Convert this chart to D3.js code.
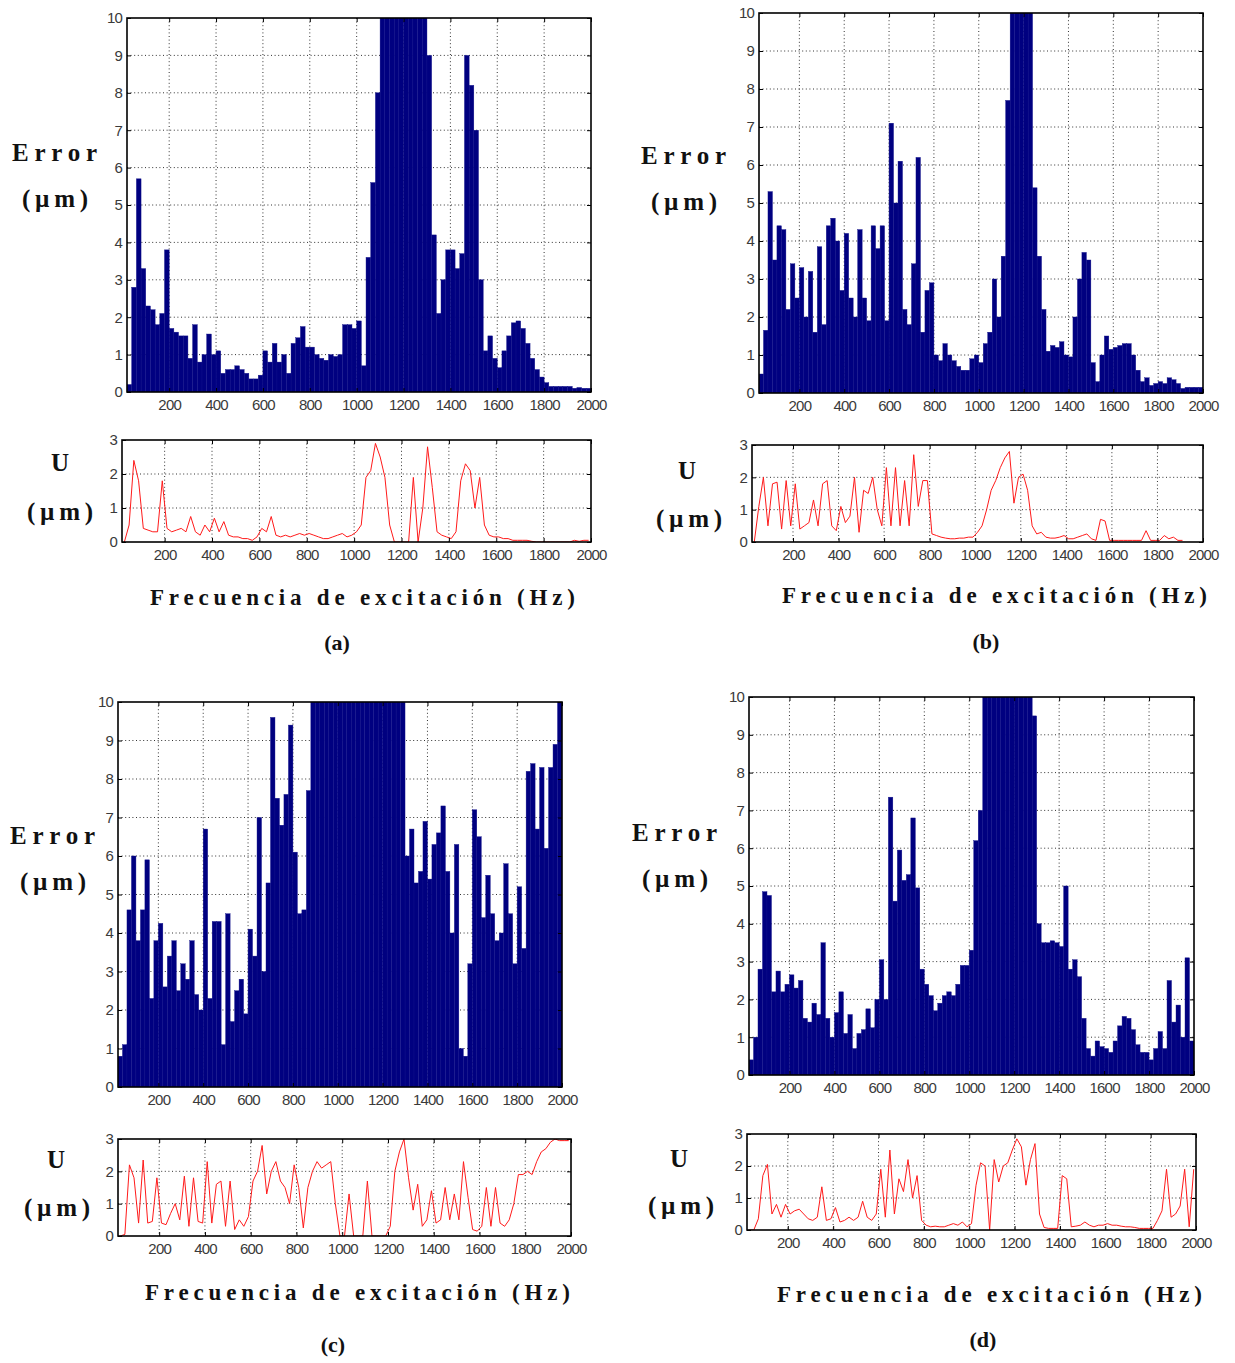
<!DOCTYPE html>
<meta charset="utf-8">
<style>
body { margin: 0; background: #fff; }
svg { display: block; }
.tick text {
  font-family: "Liberation Sans", Arial, sans-serif;
  font-size: 15px;
  fill: #3a3a3a;
  letter-spacing: -0.8px;
}
.tick line { stroke: #000; }
.grid line { stroke: #333; stroke-width: 1; stroke-dasharray: 1,2.6; }
.lbl {
  font-family: "Liberation Serif", "Times New Roman", serif;
  font-weight: bold;
  fill: #111;
}
</style>
<body>
<script src="https://d3js.org/d3.v7.min.js"></script>
<script>

// bin centres (Hz), 20 Hz wide
var freqs = d3.range(30, 2000, 20);
var xTicks = [200, 400, 600, 800, 1000, 1200, 1400, 1600, 1800, 2000];
var errTicks = [0, 1, 2, 3, 4, 5, 6, 7, 8, 9, 10];
var uTicks = [0, 1, 2, 3];

// (a)
var errA = [
  0.2, 2.8, 5.7, 3.3, 2.3, 2.2, 1.8, 2.1, 3.8, 1.7,
  1.6, 1.5, 1.5, 0.9, 1.8, 0.8, 1.0, 1.55, 1.0, 1.1,
  0.5, 0.6, 0.6, 0.7, 0.6, 0.5, 0.35, 0.35, 0.45, 1.1,
  0.8, 1.3, 0.8, 1.0, 0.5, 1.3, 1.45, 1.75, 1.2, 1.2,
  1.0, 0.9, 0.85, 1.0, 0.95, 1.0, 1.8, 1.8, 1.7, 1.9,
  0.7, 3.6, 5.6, 8, 10, 10, 10, 10, 10, 10,
  10, 10, 10, 10, 9, 4.2, 2.1, 3.0, 3.8, 3.8,
  3.3, 3.7, 9, 8.2, 7.0, 3.0, 1.1, 1.5, 0.9, 0.65,
  1.1, 1.5, 1.85, 1.9, 1.7, 1.3, 0.9, 0.6, 0.4, 0.25,
  0.15, 0.15, 0.15, 0.15, 0.15, 0.1, 0.12, 0.1, 0.1
];
var uA = [
  0, 0.5, 2.4, 1.8, 0.4, 0.35, 0.3, 0.3, 1.8, 0.4,
  0.3, 0.35, 0.4, 0.3, 0.75, 0.3, 0.2, 0.5, 0.3, 0.7,
  0.3, 0.6, 0.2, 0.15, 0.15, 0.1, 0.1, 0.05, 0.15, 0.4,
  0.3, 0.75, 0.2, 0.15, 0.2, 0.15, 0.2, 0.25, 0.2, 0.25,
  0.2, 0.15, 0.1, 0.1, 0.15, 0.2, 0.25, 0.15, 0.2, 0.3,
  0.5, 1.9, 2.1, 2.9, 2.5, 1.9, 0.5, 0, 0, 0,
  0, 1.9, 0, 1.0, 2.8, 1.6, 0.3, 0.2, 0.15, 0.1,
  0.3, 1.8, 2.3, 2.1, 1.0, 1.9, 0.5, 0.2, 0.15, 0.15,
  0.1, 0.1, 0.05, 0.05, 0.05, 0.05, 0.02, 0, 0, 0,
  0, 0, 0, 0, 0, 0.05, 0.02, 0.05, 0.05
];

// (b)
var errB = [
  0.5, 1.65, 5.3, 3.5, 4.4, 4.3, 2.2, 3.4, 2.5, 3.3,
  2.0, 3.2, 1.6, 3.85, 1.8, 4.4, 4.6, 4.0, 2.7, 4.2,
  2.5, 2.0, 4.3, 2.5, 1.9, 4.4, 3.8, 4.4, 1.9, 7.1,
  5.0, 6.1, 2.2, 1.8, 3.4, 6.2, 1.6, 2.7, 2.9, 1.0,
  0.85, 1.3, 1.0, 0.85, 0.7, 0.6, 0.6, 0.9, 1.0, 0.8,
  1.3, 1.6, 3.0, 2.0, 3.6, 7.7, 10, 10, 10, 10,
  10, 5.4, 3.6, 2.2, 1.1, 1.25, 1.2, 1.35, 1.0, 0.95,
  2.0, 3.0, 3.7, 3.5, 0.8, 0.3, 1.0, 1.5, 1.15, 1.2,
  1.25, 1.3, 1.3, 1.0, 0.6, 0.3, 0.4, 0.2, 0.25, 0.3,
  0.25, 0.4, 0.35, 0.25, 0.12, 0.15, 0.15, 0.15, 0.15
];
var uB = [
  0, 1.1, 2.0, 0.5, 1.8, 1.85, 0.4, 1.9, 0.5, 1.8,
  0.4, 0.5, 0.6, 1.3, 0.5, 1.8, 1.9, 0.5, 0.35, 1.1,
  0.6, 0.8, 2.0, 0.3, 1.6, 1.5, 2.0, 1.0, 0.5, 2.3,
  0.5, 2.3, 0.5, 1.9, 0.5, 2.7, 1.1, 1.9, 1.9, 0.25,
  0.2, 0.15, 0.12, 0.1, 0.1, 0.12, 0.12, 0.15, 0.15, 0.3,
  0.5, 1.0, 1.6, 1.9, 2.3, 2.6, 2.8, 1.2, 2.0, 2.1,
  1.6, 0.5, 0.25, 0.3, 0.15, 0.12, 0.12, 0.15, 0.2, 0.1,
  0.1, 0.15, 0.2, 0.25, 0.1, 0.05, 0.7, 0.65, 0.05, 0.05,
  0.05, 0.05, 0.05, 0.05, 0.05, 0.05, 0.35, 0.05, 0.05, 0.05,
  0.2, 0.1, 0.15, 0.05, 0.05, null, null, null, null
];

// (c)
var errC = [
  0.8, 1.1, 4.6, 6.0, 3.8, 4.6, 5.9, 2.3, 3.8, 4.25,
  2.6, 3.4, 3.8, 2.5, 3.2, 2.8, 3.8, 2.4, 2.0, 6.7,
  2.3, 4.3, 4.3, 1.1, 4.5, 1.7, 2.5, 2.8, 1.9, 4.1,
  3.4, 7.0, 3.0, 5.3, 9.6, 7.5, 6.8, 7.6, 9.4, 6.1,
  4.5, 4.6, 7.7, 10, 10, 10, 10, 10, 10, 10,
  10, 10, 10, 10, 10, 10, 10, 10, 10, 10,
  10, 10, 10, 10, 6.0, 6.7, 5.3, 5.6, 6.9, 5.4,
  6.3, 6.6, 7.3, 5.6, 4.0, 6.3, 1.0, 0.8, 3.2, 7.2,
  6.5, 4.4, 5.5, 4.5, 3.8, 4.0, 5.8, 4.5, 3.2, 5.2,
  3.6, 8.2, 8.4, 6.7, 8.3, 6.2, 8.3, 8.9, 10
];
var uC = [
  0, 0.05, 2.2, 1.8, 0.4, 2.35, 0.4, 0.45, 1.8, 0.4,
  0.35, 0.7, 1.0, 0.5, 1.85, 0.3, 1.8, 0.45, 0.4, 2.3,
  0.4, 1.6, 1.7, 0.3, 1.7, 0.2, 0.5, 0.3, 0.6, 1.7,
  2.0, 2.8, 1.3, 2.0, 2.3, 1.7, 1.5, 1.0, 2.2, 1.5,
  0.25, 1.5, 2.0, 2.3, 2.1, 2.2, 2.3, 1.0, 0, 0,
  1.3, 0, 0, 0, 1.7, 0, 0, 0, 0, 0.3,
  2.0, 2.6, 3.0, 1.8, 0.8, 1.6, 0.3, 0.5, 1.4, 0.4,
  0.5, 1.5, 0.5, 1.3, 0.5, 2.3, 1.2, 0.2, 0.15, 0.3,
  1.5, 0.3, 1.5, 0.4, 0.3, 0.5, 1.0, 1.9, 1.9, 2.0,
  1.9, 2.3, 2.6, 2.7, 2.9, 3.0, 2.95, 2.95, 2.95
];

// (d)
var errD = [
  0.4, 1.0, 2.8, 4.85, 4.75, 2.2, 2.75, 2.2, 2.4, 2.65,
  2.3, 2.5, 1.5, 1.4, 1.9, 1.6, 3.5, 1.5, 1.0, 1.65,
  2.2, 1.1, 1.6, 0.7, 1.1, 1.2, 1.75, 1.25, 2.0, 3.05,
  2.0, 7.35, 4.6, 5.95, 5.15, 5.3, 6.8, 4.95, 2.8, 2.4,
  2.1, 1.7, 1.9, 2.1, 2.2, 2.1, 2.4, 2.9, 2.9, 3.3,
  6.2, 7.0, 10, 10, 10, 10, 10, 10, 10, 10,
  10, 10, 10, 9.5, 4.0, 3.5, 3.5, 3.55, 3.5, 3.4,
  5.0, 2.8, 3.05, 2.6, 1.5, 0.7, 0.5, 0.9, 0.75, 0.7,
  0.6, 0.9, 1.3, 1.55, 1.5, 1.2, 0.8, 0.6, 0.6, 0.4,
  0.7, 1.15, 0.7, 2.5, 1.4, 1.85, 1.0, 3.1, 0.9
];
var uD = [
  0, 0, 0.35, 1.7, 2.05, 0.5, 0.8, 0.4, 0.8, 0.5,
  0.6, 0.65, 0.5, 0.35, 0.3, 0.4, 1.35, 0.3, 0.35, 0.7,
  0.25, 0.3, 0.4, 0.3, 0.4, 0.9, 0.4, 0.3, 0.5, 1.9,
  0.4, 2.5, 0.5, 1.6, 1.2, 2.2, 1.0, 1.7, 0.3, 0.15,
  0.1, 0.12, 0.1, 0.1, 0.15, 0.2, 0.15, 0.25, 0.1, 0.2,
  1.4, 2.1, 2.0, 0, 2.2, 1.5, 2.0, 2.1, 2.5, 2.85,
  2.6, 1.4, 2.2, 2.7, 0.5, 0.08, 0.05, 0.05, 0.05, 1.7,
  1.6, 0.1, 0.12, 0.15, 0.25, 0.15, 0.1, 0.15, 0.15, 0.2,
  0.15, 0.15, 0.12, 0.1, 0.1, 0.08, 0.05, 0.05, 0.05, 0.05,
  0.3, 0.6, 1.9, 0.4, 0.5, 0.75, 1.9, 0.1, 1.9
];

var panels = [
  { tag: "(a)", err: errA, u: uA,
    eBox: [127, 18, 591, 392], uBox: [122, 440, 591, 542],
    errLbl: [12, 161, 85], errUnit: [22, 207, 66],
    uLbl: [60, 471], uUnit: [27, 520, 66],
    xLbl: [150, 605, 425], tagPos: [337, 650] },
  { tag: "(b)", err: errB, u: uB,
    eBox: [759, 13, 1203, 393], uBox: [752, 445, 1203, 542],
    errLbl: [641, 164, 85], errUnit: [651, 210, 66],
    uLbl: [687, 479], uUnit: [656, 527, 66],
    xLbl: [782, 603, 425], tagPos: [986, 649] },
  { tag: "(c)", err: errC, u: uC,
    eBox: [118, 702, 562, 1087], uBox: [118, 1139, 571, 1236],
    errLbl: [10, 844, 85], errUnit: [20, 890, 66],
    uLbl: [56, 1168], uUnit: [24, 1216, 66],
    xLbl: [145, 1300, 425], tagPos: [333, 1352] },
  { tag: "(d)", err: errD, u: uD,
    eBox: [749, 697, 1194, 1075], uBox: [747, 1134, 1196, 1230],
    errLbl: [632, 841, 85], errUnit: [642, 887, 66],
    uLbl: [679, 1167], uUnit: [648, 1214, 66],
    xLbl: [777, 1302, 425], tagPos: [983, 1347] }
];

var svg = d3.select("body").append("svg")
  .attr("width", 1235)
  .attr("height", 1363);

var clipId = 0;
var plain = function(d) { return String(d); };

function drawPlot(box, yMax, yTicks, values, kind) {
  var x0 = box[0], y0 = box[1], x1 = box[2], y1 = box[3];
  var x = d3.scaleLinear().domain([20, 2000]).range([x0, x1]);
  var y = d3.scaleLinear().domain([0, yMax]).range([y1, y0]);
  var g = svg.append("g");
  var id = "clip" + (clipId++);

  g.append("clipPath").attr("id", id)
    .append("rect")
    .attr("x", x0).attr("y", y0)
    .attr("width", x1 - x0).attr("height", y1 - y0);

  // dotted grid, underneath the data
  var grid = g.append("g").attr("class", "grid");
  grid.selectAll("line.v")
    .data(xTicks.filter(function(t) { return t < 2000; }))
    .enter().append("line")
    .attr("class", "v")
    .attr("x1", function(d) { return x(d); })
    .attr("x2", function(d) { return x(d); })
    .attr("y1", y0).attr("y2", y1);
  grid.selectAll("line.h")
    .data(yTicks.filter(function(t) { return t > 0 && t < yMax; }))
    .enter().append("line")
    .attr("class", "h")
    .attr("y1", function(d) { return y(d); })
    .attr("y2", function(d) { return y(d); })
    .attr("x1", x0).attr("x2", x1);

  var data = freqs.map(function(f, i) { return { f: f, v: values[i] }; });
  var plot = g.append("g").attr("clip-path", "url(#" + id + ")");

  if (kind === "bar") {
    plot.selectAll("rect")
      .data(data)
      .enter().append("rect")
      .attr("x", function(d) { return x(d.f - 10); })
      .attr("width", function(d) { return x(d.f + 10) - x(d.f - 10); })
      .attr("y", function(d) { return y(Math.min(d.v, yMax)); })
      .attr("height", function(d) { return y1 - y(Math.min(d.v, yMax)); })
      .attr("fill", "#000080")
      .attr("stroke", "#10108a")
      .attr("stroke-width", 0.4);
  } else {
    var line = d3.line()
      .defined(function(d) { return d.v !== null; })
      .x(function(d) { return x(d.f); })
      .y(function(d) { return y(Math.min(d.v, yMax)); });
    plot.append("path")
      .datum(data)
      .attr("d", line)
      .attr("fill", "none")
      .attr("stroke", "#ff1a1a")
      .attr("stroke-width", 1);
  }

  // axes with inward ticks on all four sides
  g.append("g")
    .attr("transform", "translate(0," + y1 + ")")
    .call(d3.axisBottom(x).tickValues(xTicks).tickFormat(plain).tickSize(-4).tickPadding(7))
    .call(function(a) { a.select(".domain").remove(); });
  g.append("g")
    .attr("transform", "translate(0," + y0 + ")")
    .call(d3.axisTop(x).tickValues(xTicks).tickSize(-4).tickFormat(""))
    .call(function(a) { a.select(".domain").remove(); });
  g.append("g")
    .attr("transform", "translate(" + x0 + ",0)")
    .call(d3.axisLeft(y).tickValues(yTicks).tickFormat(plain).tickSize(-4).tickPadding(5))
    .call(function(a) { a.select(".domain").remove(); });
  g.append("g")
    .attr("transform", "translate(" + x1 + ",0)")
    .call(d3.axisRight(y).tickValues(yTicks).tickSize(-4).tickFormat(""))
    .call(function(a) { a.select(".domain").remove(); });

  g.append("rect")
    .attr("x", x0).attr("y", y0)
    .attr("width", x1 - x0).attr("height", y1 - y0)
    .attr("fill", "none")
    .attr("stroke", "#000")
    .attr("stroke-width", 1.6);
}

function label(txt, x, y, size, len, anchor) {
  var t = svg.append("text")
    .attr("class", "lbl")
    .attr("x", x).attr("y", y)
    .attr("font-size", size)
    .attr("text-anchor", anchor || "start")
    .text(txt);
  if (len) t.attr("textLength", len).attr("lengthAdjust", "spacing");
}

panels.forEach(function(p) {
  drawPlot(p.eBox, 10, errTicks, p.err, "bar");
  drawPlot(p.uBox, 3, uTicks, p.u, "line");

  label("Error", p.errLbl[0], p.errLbl[1], 25, p.errLbl[2]);
  label("(\u00b5m)", p.errUnit[0], p.errUnit[1], 25, p.errUnit[2]);
  label("U", p.uLbl[0], p.uLbl[1], 25, null, "middle");
  label("(\u00b5m)", p.uUnit[0], p.uUnit[1], 25, p.uUnit[2]);
  label("Frecuencia de excitaci\u00f3n (Hz)", p.xLbl[0], p.xLbl[1], 23, p.xLbl[2]);
  label(p.tag, p.tagPos[0], p.tagPos[1], 22, null, "middle");
});

</script>
</body>
